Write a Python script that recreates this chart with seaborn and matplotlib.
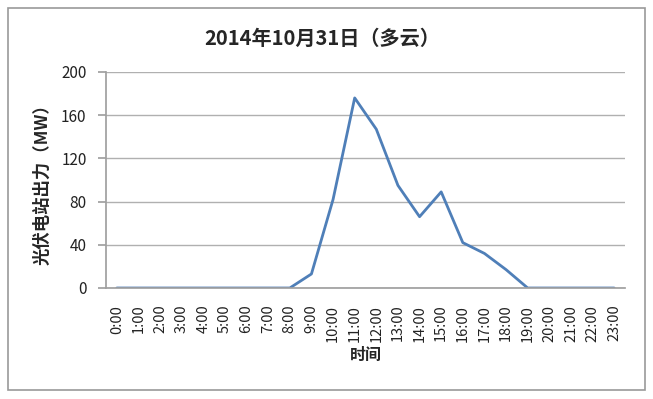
import matplotlib
matplotlib.use("Agg")
import matplotlib.pyplot as plt
import seaborn as sns
import pandas as pd
from matplotlib.patches import Rectangle

hours = [f"{h}:00" for h in range(24)]
output_mw = [0, 0, 0, 0, 0, 0, 0, 0, 0, 13, 82, 176, 147, 95, 66, 89, 42, 32, 17, 0, 0, 0, 0, 0]
y_ticks = [0, 40, 80, 120, 160, 200]

title = "2014年10月31日（多云）"
xlabel = "时间"
ylabel = "光伏电站出力（MW）"

sns.set_theme(style="white")
plt.rcParams['font.family'] = ['Noto Sans CJK SC', 'DejaVu Sans']

df = pd.DataFrame({"hour": hours, "mw": output_mw, "idx": range(len(hours))})

fig = plt.figure(figsize=(6.53, 3.99), dpi=100)
ax = fig.add_axes([106/653, 1-288/399, (625-106)/653, (288-72)/399])

sns.lineplot(data=df, x="idx", y="mw", ax=ax, color="#4f7fb8", linewidth=2.0)

ax.set_xlim(-0.5, len(hours)-0.5)
ax.set_ylim(0, 200)
ax.set_yticks(y_ticks)
ax.set_yticklabels([str(v) for v in y_ticks], fontsize=11, color="#222222")
ax.set_xticks(range(len(hours)))
ax.set_xticklabels(hours, rotation=90, fontsize=10.5, color="#222222")
ax.yaxis.grid(True, color="#b0b0b0", linewidth=1.0)
ax.set_axisbelow(True)
for s in ["top", "right"]:
    ax.spines[s].set_visible(False)
ax.spines["left"].set_color("#a0a0a0")
ax.spines["bottom"].set_color("#a0a0a0")
ax.tick_params(axis="y", left=True, length=6, color="#a0a0a0", pad=8)
ax.tick_params(axis="x", bottom=False, pad=6)

ax.set_xlabel(xlabel, fontsize=11.5, fontweight="bold", labelpad=4)
ax.set_ylabel(ylabel, fontsize=12.5, fontweight="bold", labelpad=7)
fig.text(322/653, 1-38/399, title, ha="center", va="center", fontsize=14.5, fontweight="bold")

fig.patches.append(Rectangle((8/653, 1-390/399), (645-8)/653, (390-8)/399,
                             transform=fig.transFigure, fill=False, edgecolor="#999999", linewidth=1.2))

fig.savefig("out.png", dpi=100, facecolor="white")
